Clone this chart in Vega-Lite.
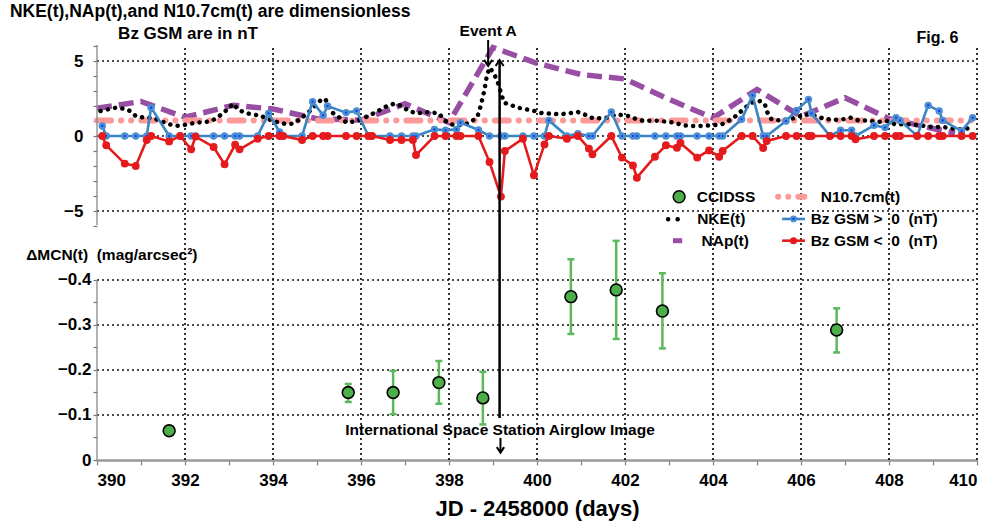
{
"$schema": "https://vega.github.io/schema/vega-lite/v6.json",
"width": 880, "height": 415,
"autosize": {"type": "none"},
"padding": {"left": 97, "top": 45, "right": 18, "bottom": 69},
"background": "white",
"config": {"view": {"stroke": null}},
"datasets": {
"gx": [{"g":392},{"g":394},{"g":396},{"g":398},{"g":400},{"g":402},{"g":404},{"g":406},{"g":408},{"g":410}],
"gyu": [{"g":-5},{"g":0},{"g":5}],
"gyl": [{"g":-0.1},{"g":-0.2},{"g":-0.3},{"g":-0.4}],
"bz": [
{"x":390.12,"bzp":0.67,"bzn":0},{"x":390.21,"bzp":0,"bzn":-0.62},{"x":390.63,"bzp":0,"bzn":-1.84},{"x":390.88,"bzp":0,"bzn":-2.0},
{"x":391.13,"bzp":0,"bzn":-0.27},{"x":391.23,"bzp":1.89,"bzn":0},{"x":391.64,"bzp":0,"bzn":-0.36},{"x":391.89,"bzp":0,"bzn":0},
{"x":392.14,"bzp":0,"bzn":-0.89},{"x":392.24,"bzp":0,"bzn":-0.04},{"x":392.65,"bzp":0,"bzn":-0.73},{"x":392.9,"bzp":0,"bzn":-1.89},
{"x":393.14,"bzp":0,"bzn":-0.58},{"x":393.24,"bzp":0,"bzn":-0.89},{"x":393.65,"bzp":0,"bzn":-0.18},{"x":393.9,"bzp":1.51,"bzn":0},
{"x":394.15,"bzp":0.27,"bzn":0},{"x":394.23,"bzp":0,"bzn":0},{"x":394.66,"bzp":0,"bzn":-0.27},{"x":394.9,"bzp":2.29,"bzn":0},
{"x":395.14,"bzp":1.38,"bzn":0},{"x":395.24,"bzp":2.0,"bzn":0},{"x":395.66,"bzp":1.56,"bzn":0},{"x":395.9,"bzp":1.67,"bzn":0},
{"x":396.17,"bzp":0,"bzn":0},{"x":396.25,"bzp":0,"bzn":0},{"x":396.66,"bzp":0,"bzn":-0.27},{"x":396.92,"bzp":0,"bzn":-0.27},
{"x":397.18,"bzp":0,"bzn":-0.27},{"x":397.25,"bzp":0,"bzn":-1.27},{"x":397.67,"bzp":0.44,"bzn":0},{"x":397.92,"bzp":0.38,"bzn":0},
{"x":398.17,"bzp":0.44,"bzn":0},{"x":398.26,"bzp":0.89,"bzn":0},{"x":398.67,"bzp":0.4,"bzn":0},{"x":398.92,"bzp":0,"bzn":-1.73},
{"x":399.18,"bzp":0,"bzn":-4.04},{"x":399.27,"bzp":0,"bzn":-1.0},{"x":399.68,"bzp":0,"bzn":-0.18},{"x":399.93,"bzp":0,"bzn":-2.62},
{"x":400.17,"bzp":0,"bzn":-0.56},{"x":400.27,"bzp":1.04,"bzn":0},{"x":400.68,"bzp":0,"bzn":-0.18},{"x":400.93,"bzp":0.16,"bzn":0},
{"x":401.18,"bzp":0,"bzn":-0.84},{"x":401.26,"bzp":0,"bzn":-1.22},{"x":401.69,"bzp":1.6,"bzn":0},{"x":401.93,"bzp":0,"bzn":-1.44},
{"x":402.18,"bzp":0,"bzn":-1.96},{"x":402.27,"bzp":0,"bzn":-2.78},{"x":402.68,"bzp":0,"bzn":-1.38},{"x":402.93,"bzp":0,"bzn":-0.62},
{"x":403.18,"bzp":0,"bzn":-0.78},{"x":403.26,"bzp":0,"bzn":-0.47},{"x":403.64,"bzp":0,"bzn":-1.44},{"x":403.91,"bzp":0,"bzn":-0.96},
{"x":404.14,"bzp":0,"bzn":-1.38},{"x":404.22,"bzp":0,"bzn":-1.0},{"x":404.65,"bzp":1.11,"bzn":0},{"x":404.9,"bzp":2.71,"bzn":0},
{"x":405.14,"bzp":0,"bzn":-0.8},{"x":405.22,"bzp":0,"bzn":-0.33},{"x":405.66,"bzp":1.0,"bzn":0},{"x":405.9,"bzp":1.71,"bzn":0},
{"x":406.17,"bzp":2.44,"bzn":0},{"x":406.24,"bzp":1.51,"bzn":0},{"x":406.66,"bzp":0,"bzn":0},{"x":406.9,"bzp":0.38,"bzn":0},
{"x":407.15,"bzp":0.38,"bzn":0},{"x":407.24,"bzp":0,"bzn":-0.22},{"x":407.66,"bzp":0.71,"bzn":0},{"x":407.91,"bzp":0.56,"bzn":0},
{"x":408.16,"bzp":1.22,"bzn":0},{"x":408.25,"bzp":1.04,"bzn":0},{"x":408.64,"bzp":0,"bzn":0},{"x":408.89,"bzp":2.04,"bzn":0},
{"x":409.14,"bzp":1.67,"bzn":0},{"x":409.22,"bzp":1.04,"bzn":0},{"x":409.65,"bzp":0.33,"bzn":0},{"x":409.9,"bzp":1.22,"bzn":0}
],
"nke": [
{"x":390.08,"v":1.67},{"x":390.43,"v":1.89},{"x":390.62,"v":1.82},{"x":390.75,"v":1.67},{"x":390.88,"v":1.33},{"x":391.07,"v":1.22},
{"x":391.26,"v":1.22},{"x":391.45,"v":1.0},{"x":391.64,"v":0.78},{"x":391.87,"v":0.67},{"x":392.06,"v":0.78},{"x":392.25,"v":0.89},
{"x":392.44,"v":0.93},{"x":392.6,"v":1.0},{"x":392.73,"v":1.22},{"x":392.86,"v":1.51},{"x":392.98,"v":1.82},{"x":393.1,"v":2.16},
{"x":393.2,"v":1.78},{"x":393.32,"v":1.6},{"x":393.51,"v":1.44},{"x":393.7,"v":1.38},{"x":393.85,"v":1.18},{"x":394.0,"v":1.0},
{"x":394.16,"v":0.89},{"x":394.31,"v":0.78},{"x":394.46,"v":0.84},{"x":394.61,"v":1.11},{"x":394.8,"v":1.56},{"x":394.99,"v":2.11},
{"x":395.12,"v":2.49},{"x":395.2,"v":2.4},{"x":395.33,"v":1.6},{"x":395.49,"v":1.27},{"x":395.68,"v":0.89},{"x":395.9,"v":1.0},
{"x":396.13,"v":1.29},{"x":396.32,"v":1.56},{"x":396.44,"v":1.75},{"x":396.59,"v":2.0},{"x":396.76,"v":2.16},{"x":396.93,"v":2.0},
{"x":397.08,"v":1.67},{"x":397.28,"v":1.51},{"x":397.46,"v":1.6},{"x":397.62,"v":1.56},{"x":397.77,"v":1.51},{"x":397.92,"v":1.0},
{"x":398.04,"v":0.78},{"x":398.19,"v":0.71},{"x":398.38,"v":0.78},{"x":398.53,"v":1.0},{"x":398.65,"v":1.33},{"x":398.72,"v":2.0},
{"x":398.8,"v":3.0},{"x":398.86,"v":4.0},{"x":398.92,"v":4.56},{"x":399.01,"v":4.22},{"x":399.1,"v":3.67},{"x":399.19,"v":2.78},
{"x":399.25,"v":2.22},{"x":399.37,"v":2.11},{"x":399.56,"v":1.89},{"x":399.75,"v":1.78},{"x":399.94,"v":1.67},{"x":400.13,"v":1.51},
{"x":400.32,"v":1.49},{"x":400.51,"v":1.44},{"x":400.7,"v":1.51},{"x":400.93,"v":1.6},{"x":401.08,"v":1.44},{"x":401.23,"v":1.22},
{"x":401.42,"v":1.18},{"x":401.61,"v":1.22},{"x":401.8,"v":1.44},{"x":401.99,"v":1.38},{"x":402.14,"v":1.29},{"x":402.26,"v":1.11},
{"x":402.45,"v":1.0},{"x":402.64,"v":1.04},{"x":402.83,"v":1.0},{"x":402.98,"v":0.93},{"x":403.13,"v":0.89},{"x":403.32,"v":0.71},
{"x":403.48,"v":0.67},{"x":403.7,"v":0.67},{"x":403.97,"v":0.71},{"x":404.2,"v":0.78},{"x":404.35,"v":1.0},{"x":404.5,"v":1.29},
{"x":404.69,"v":1.78},{"x":404.88,"v":2.22},{"x":405.07,"v":2.33},{"x":405.18,"v":2.11},{"x":405.23,"v":1.6},{"x":405.33,"v":1.11},
{"x":405.45,"v":1.04},{"x":405.75,"v":1.11},{"x":405.94,"v":1.29},{"x":406.13,"v":1.44},{"x":406.36,"v":1.33},{"x":406.51,"v":1.16},
{"x":406.73,"v":1.07},{"x":406.96,"v":1.11},{"x":407.13,"v":1.22},{"x":407.3,"v":1.04},{"x":407.49,"v":1.04},{"x":407.72,"v":0.93},
{"x":407.95,"v":1.0},{"x":408.14,"v":0.78},{"x":408.33,"v":0.78},{"x":408.55,"v":0.78},{"x":408.7,"v":0.71},{"x":408.93,"v":0.62},
{"x":409.23,"v":0.6},{"x":409.46,"v":0.49},{"x":409.69,"v":0.44},{"x":409.88,"v":0.56}
],
"nap": [
{"x":390.0,"v":1.85},{"x":391.0,"v":2.3},{"x":392.0,"v":1.25},{"x":393.1,"v":2.05},{"x":394.0,"v":1.8},{"x":395.0,"v":1.15},
{"x":396.0,"v":1.05},{"x":397.0,"v":2.15},{"x":398.0,"v":0.9},{"x":399.0,"v":5.9},{"x":400.0,"v":4.85},{"x":401.0,"v":4.1},
{"x":402.0,"v":3.8},{"x":403.0,"v":2.45},{"x":404.0,"v":1.2},{"x":405.0,"v":3.1},{"x":406.0,"v":1.3},{"x":407.0,"v":2.55},
{"x":408.0,"v":1.15},{"x":409.0,"v":0.5},{"x":409.5,"v":0.2}
],
"n107": [
{"x":390,"v":1.03},{"x":391,"v":1.03},{"x":392,"v":1.03},{"x":393,"v":1.03},{"x":394,"v":1.03},{"x":395,"v":1.03},{"x":396,"v":1.03},
{"x":397,"v":1.03},{"x":398,"v":1.03},{"x":399,"v":1.03},{"x":400,"v":1.03},{"x":401,"v":1.03},{"x":402,"v":1.03},{"x":403,"v":1.03},
{"x":404,"v":1.03},{"x":405,"v":1.03},{"x":406,"v":1.03},{"x":407,"v":1.03},{"x":408,"v":1.03},{"x":409,"v":1.03},{"x":410,"v":1.03}
],
"cc": [
{"x":391.64,"y":-0.065,"lo":null,"hi":null},
{"x":395.71,"y":-0.150,"lo":-0.129,"hi":-0.169},
{"x":396.73,"y":-0.150,"lo":-0.102,"hi":-0.198},
{"x":397.77,"y":-0.172,"lo":-0.125,"hi":-0.220},
{"x":398.77,"y":-0.138,"lo":-0.079,"hi":-0.196},
{"x":400.77,"y":-0.363,"lo":-0.280,"hi":-0.446},
{"x":401.80,"y":-0.378,"lo":-0.269,"hi":-0.487},
{"x":402.85,"y":-0.331,"lo":-0.248,"hi":-0.415},
{"x":406.81,"y":-0.289,"lo":-0.239,"hi":-0.337}
]
},
"data": {"values": [{}]},
"layer": [
{
"resolve": {"axis": {"x": "independent", "y": "independent"}},
"layer": [
{"data": {"name": "gx"},
 "mark": {"type": "rule", "color": "#111", "strokeWidth": 1.7, "strokeDash": [2, 3], "opacity": 1},
 "encoding": {"x": {"field": "g", "type": "quantitative", "scale": {"domain": [390, 410], "nice": false, "zero": false}, "axis": null},
  "y": {"datum": -21.6, "scale": {"domain": [-21.6, 6.0667], "nice": false, "zero": false}, "axis": null}, "y2": {"datum": 6.0667}}},
{"data": {"name": "gyu"},
 "mark": {"type": "rule", "color": "#111", "strokeWidth": 1.7, "strokeDash": [2, 3], "opacity": 1},
 "encoding": {"x": {"datum": 390, "axis": null}, "x2": {"datum": 410}, "y": {"field": "g", "type": "quantitative", "axis": null}}},
{"data": {"name": "nap"},
 "mark": {"type": "line", "color": "#984ea3", "strokeWidth": 5.5, "strokeDash": [15, 7]},
 "encoding": {"x": {"field": "x", "type": "quantitative", "axis": null}, "y": {"field": "v", "type": "quantitative", "axis": null}}},
{"data": {"name": "n107"},
 "mark": {"type": "line", "color": "#fb9a99", "strokeWidth": 6, "strokeCap": "round", "strokeDash": [14, 10, 0.1, 10, 0.1, 10]},
 "encoding": {
  "x": {"field": "x", "type": "quantitative",
   "axis": {"title": "JD - 2458000 (days)", "orient": "bottom", "values": [390,391,392,393,394,395,396,397,398,399,400,401,402,403,404,405,406,407,408,409,410],
    "labelExpr": "datum.value % 2 === 0 ? datum.label : ''", "labelOverlap": false, "grid": false,
    "domain": true, "domainColor": "#999", "domainWidth": 2.5, "ticks": true, "tickColor": "#888", "tickSize": 5, "tickWidth": 1.3,
    "labelFont": "Liberation Sans, sans-serif", "labelFontSize": 17, "labelFontWeight": "bold", "labelColor": "#000", "labelPadding": 7,
    "titleFont": "Liberation Sans, sans-serif", "titleFontSize": 22, "titleFontWeight": "bold", "titleColor": "#000", "titlePadding": 10}},
  "y": {"field": "v", "type": "quantitative",
   "axis": {"title": null, "orient": "left", "values": [-6,-5,-4,-3,-2,-1,0,1,2,3,4,5,6],
    "labelExpr": "datum.value % 5 === 0 ? datum.label : ''", "labelOverlap": false, "grid": false,
    "domain": false, "ticks": true, "tickColor": "#777", "tickSize": 4, "tickWidth": 1.2,
    "labelFont": "Liberation Sans, sans-serif", "labelFontSize": 17, "labelFontWeight": "bold", "labelColor": "#000", "labelPadding": 10}}
 }},
{"data": {"name": "nke"},
 "mark": {"type": "line", "color": "#000", "strokeWidth": 4.5, "strokeCap": "round", "strokeDash": [0.1, 7.3]},
 "encoding": {"x": {"field": "x", "type": "quantitative", "axis": null}, "y": {"field": "v", "type": "quantitative", "axis": null}}},
{"data": {"name": "bz"},
 "mark": {"type": "line", "color": "#3a84c4", "strokeWidth": 2.6},
 "encoding": {"x": {"field": "x", "type": "quantitative", "axis": null}, "y": {"field": "bzp", "type": "quantitative", "axis": null}}},
{"data": {"name": "bz"},
 "mark": {"type": "point", "filled": true, "color": "#4a90d0", "size": 55, "opacity": 1},
 "encoding": {"x": {"field": "x", "type": "quantitative", "axis": null}, "y": {"field": "bzp", "type": "quantitative", "axis": null}}},
{"data": {"name": "bz"},
 "mark": {"type": "point", "filled": true, "color": "#1530ff", "size": 5, "opacity": 1},
 "encoding": {"x": {"field": "x", "type": "quantitative", "axis": null}, "y": {"field": "bzp", "type": "quantitative", "axis": null}}},
{"data": {"name": "bz"},
 "mark": {"type": "line", "color": "#e41a1c", "strokeWidth": 2.6},
 "encoding": {"x": {"field": "x", "type": "quantitative", "axis": null}, "y": {"field": "bzn", "type": "quantitative", "axis": null}}},
{"data": {"name": "bz"},
 "mark": {"type": "point", "filled": true, "color": "#e41a1c", "size": 62, "opacity": 1},
 "encoding": {"x": {"field": "x", "type": "quantitative", "axis": null}, "y": {"field": "bzn", "type": "quantitative", "axis": null}}},
{"mark": {"type": "rule", "color": "#888", "strokeWidth": 1.3},
 "encoding": {"x": {"datum": 390, "axis": null}, "y": {"datum": -5.93, "axis": null}, "y2": {"datum": 6.0667}}},
{"mark": {"type": "rule", "color": "#000", "strokeWidth": 2.5},
 "encoding": {"x": {"datum": 399.15, "axis": null}, "y": {"datum": 5.07, "axis": null}, "y2": {"datum": -18.8}}},
{"mark": {"type": "point", "shape": "M-0.6,0.9L0,0L0.6,0.9", "filled": false, "color": "#000", "strokeWidth": 2, "size": 180, "opacity": 1},
 "encoding": {"x": {"datum": 399.15, "axis": null}, "y": {"datum": 5.07, "axis": null}}},
{"mark": {"type": "rule", "color": "#000", "strokeWidth": 2},
 "encoding": {"x": {"datum": 398.89, "axis": null}, "y": {"datum": 6.4, "axis": null}, "y2": {"datum": 4.67}}},
{"mark": {"type": "point", "shape": "M-0.6,-0.9L0,0L0.6,-0.9", "filled": false, "color": "#000", "strokeWidth": 2, "size": 180, "opacity": 1},
 "encoding": {"x": {"datum": 398.89, "axis": null}, "y": {"datum": 4.67, "axis": null}}},
{"mark": {"type": "rule", "color": "#000", "strokeWidth": 2},
 "encoding": {"x": {"datum": 399.17, "axis": null}, "y": {"datum": -20.13, "axis": null}, "y2": {"datum": -21.11}}},
{"mark": {"type": "point", "shape": "M-0.6,-0.9L0,0L0.6,-0.9", "filled": false, "color": "#000", "strokeWidth": 2, "size": 150, "opacity": 1},
 "encoding": {"x": {"datum": 399.17, "axis": null}, "y": {"datum": -21.11, "axis": null}}},
{"mark": {"type": "text", "align": "left", "baseline": "middle", "font": "Liberation Sans, sans-serif", "fontSize": 17.5, "fontWeight": "bold", "color": "#000", "text": "NKE(t),NAp(t),and N10.7cm(t) are dimensionless"},
 "encoding": {"x": {"datum": 388.02, "axis": null}, "y": {"datum": 8.27, "axis": null}}},
{"mark": {"type": "text", "align": "left", "baseline": "middle", "font": "Liberation Sans, sans-serif", "fontSize": 17, "fontWeight": "bold", "color": "#000", "text": "Bz GSM are in nT"},
 "encoding": {"x": {"datum": 390.48, "axis": null}, "y": {"datum": 6.8, "axis": null}}},
{"mark": {"type": "text", "align": "center", "baseline": "middle", "font": "Liberation Sans, sans-serif", "fontSize": 15.5, "fontWeight": "bold", "color": "#000", "text": "Event A"},
 "encoding": {"x": {"datum": 398.89, "axis": null}, "y": {"datum": 7.0, "axis": null}}},
{"mark": {"type": "text", "align": "center", "baseline": "middle", "font": "Liberation Sans, sans-serif", "fontSize": 16, "fontWeight": "bold", "color": "#000", "text": "Fig. 6"},
 "encoding": {"x": {"datum": 409.1, "axis": null}, "y": {"datum": 6.53, "axis": null}}},
{"mark": {"type": "text", "align": "left", "baseline": "middle", "font": "Liberation Sans, sans-serif", "fontSize": 15.5, "fontWeight": "bold", "color": "#000", "text": "ΔMCN(t)\u00a0\u00a0(mag/arcsec²)"},
 "encoding": {"x": {"datum": 388.39, "axis": null}, "y": {"datum": -7.93, "axis": null}}},
{"mark": {"type": "text", "align": "center", "baseline": "middle", "font": "Liberation Sans, sans-serif", "fontSize": 15.5, "fontWeight": "bold", "color": "#000", "text": "International Space Station Airglow Image"},
 "encoding": {"x": {"datum": 399.16, "axis": null}, "y": {"datum": -19.6, "axis": null}}},
{"mark": {"type": "point", "filled": true, "color": "#4daf4a", "stroke": "#000", "strokeWidth": 1.5, "size": 140, "opacity": 1},
 "encoding": {"x": {"datum": 403.23, "axis": null}, "y": {"datum": -4.05, "axis": null}}},
{"mark": {"type": "rule", "color": "#000", "strokeWidth": 4.5, "strokeCap": "round", "strokeDash": [0.1, 9.4]},
 "encoding": {"x": {"datum": 402.98, "axis": null}, "x2": {"datum": 403.41}, "y": {"datum": -5.55, "axis": null}}},
{"mark": {"type": "rule", "color": "#984ea3", "strokeWidth": 5},
 "encoding": {"x": {"datum": 403.09, "axis": null}, "x2": {"datum": 403.3}, "y": {"datum": -6.98, "axis": null}}},
{"mark": {"type": "rule", "color": "#fb9a99", "strokeWidth": 6, "strokeCap": "round", "strokeDash": [0.1, 10, 0.1, 10, 6, 50]},
 "encoding": {"x": {"datum": 405.48, "axis": null}, "x2": {"datum": 406.09}, "y": {"datum": -4.05, "axis": null}}},
{"mark": {"type": "rule", "color": "#3a84c4", "strokeWidth": 2.6},
 "encoding": {"x": {"datum": 405.57, "axis": null}, "x2": {"datum": 406.09}, "y": {"datum": -5.53, "axis": null}}},
{"mark": {"type": "point", "filled": true, "color": "#4a90d0", "size": 45, "opacity": 1},
 "encoding": {"x": {"datum": 405.83, "axis": null}, "y": {"datum": -5.53, "axis": null}}},
{"mark": {"type": "point", "filled": true, "color": "#1530ff", "size": 5, "opacity": 1},
 "encoding": {"x": {"datum": 405.83, "axis": null}, "y": {"datum": -5.53, "axis": null}}},
{"mark": {"type": "rule", "color": "#e41a1c", "strokeWidth": 2.6},
 "encoding": {"x": {"datum": 405.57, "axis": null}, "x2": {"datum": 406.09}, "y": {"datum": -6.98, "axis": null}}},
{"mark": {"type": "point", "filled": true, "color": "#e41a1c", "size": 50, "opacity": 1},
 "encoding": {"x": {"datum": 405.83, "axis": null}, "y": {"datum": -6.98, "axis": null}}},
{"mark": {"type": "text", "align": "left", "baseline": "middle", "font": "Liberation Sans, sans-serif", "fontSize": 15.5, "fontWeight": "bold", "color": "#000", "text": "CCIDSS"},
 "encoding": {"x": {"datum": 403.63, "axis": null}, "y": {"datum": -4.05, "axis": null}}},
{"mark": {"type": "text", "align": "left", "baseline": "middle", "font": "Liberation Sans, sans-serif", "fontSize": 15.5, "fontWeight": "bold", "color": "#000", "text": "NKE(t)"},
 "encoding": {"x": {"datum": 403.64, "axis": null}, "y": {"datum": -5.55, "axis": null}}},
{"mark": {"type": "text", "align": "left", "baseline": "middle", "font": "Liberation Sans, sans-serif", "fontSize": 15.5, "fontWeight": "bold", "color": "#000", "text": "NAp(t)"},
 "encoding": {"x": {"datum": 403.74, "axis": null}, "y": {"datum": -6.98, "axis": null}}},
{"mark": {"type": "text", "align": "left", "baseline": "middle", "font": "Liberation Sans, sans-serif", "fontSize": 15.5, "fontWeight": "bold", "color": "#000", "text": "N10.7cm(t)"},
 "encoding": {"x": {"datum": 406.45, "axis": null}, "y": {"datum": -4.05, "axis": null}}},
{"mark": {"type": "text", "align": "left", "baseline": "middle", "font": "Liberation Sans, sans-serif", "fontSize": 15.5, "fontWeight": "bold", "color": "#000", "text": "Bz GSM >\u00a0\u00a00\u00a0\u00a0(nT)"},
 "encoding": {"x": {"datum": 406.22, "axis": null}, "y": {"datum": -5.53, "axis": null}}},
{"mark": {"type": "text", "align": "left", "baseline": "middle", "font": "Liberation Sans, sans-serif", "fontSize": 15.5, "fontWeight": "bold", "color": "#000", "text": "Bz GSM <\u00a0\u00a00\u00a0\u00a0(nT)"},
 "encoding": {"x": {"datum": 406.22, "axis": null}, "y": {"datum": -6.98, "axis": null}}}
]
},
{
"resolve": {"axis": {"x": "independent", "y": "independent"}},
"layer": [
{"data": {"name": "gyl"},
 "mark": {"type": "rule", "color": "#111", "strokeWidth": 1.7, "strokeDash": [2, 3], "opacity": 1},
 "encoding": {"x": {"datum": 390, "axis": null}, "x2": {"datum": 410},
  "y": {"field": "g", "type": "quantitative", "scale": {"domain": [-0.9222, 0], "reverse": true, "nice": false, "zero": false}, "axis": null}}},
{"data": {"name": "cc"},
 "transform": [{"filter": "isValid(datum.lo)"}],
 "mark": {"type": "rule", "color": "#5cb85c", "strokeWidth": 2.5},
 "encoding": {"x": {"field": "x", "type": "quantitative", "axis": null}, "y": {"field": "lo", "type": "quantitative", "axis": null}, "y2": {"field": "hi"}}},
{"data": {"name": "cc"},
 "transform": [{"filter": "isValid(datum.lo)"}],
 "mark": {"type": "tick", "orient": "horizontal", "color": "#5cb85c", "size": 7, "thickness": 2.5, "opacity": 1},
 "encoding": {"x": {"field": "x", "type": "quantitative", "axis": null}, "y": {"field": "lo", "type": "quantitative", "axis": null}}},
{"data": {"name": "cc"},
 "transform": [{"filter": "isValid(datum.hi)"}],
 "mark": {"type": "tick", "orient": "horizontal", "color": "#5cb85c", "size": 7, "thickness": 2.5, "opacity": 1},
 "encoding": {"x": {"field": "x", "type": "quantitative", "axis": null}, "y": {"field": "hi", "type": "quantitative", "axis": null}}},
{"data": {"name": "cc"},
 "mark": {"type": "point", "filled": true, "color": "#4daf4a", "stroke": "#000", "strokeWidth": 1.6, "size": 140, "opacity": 1},
 "encoding": {"x": {"field": "x", "type": "quantitative", "axis": null},
  "y": {"field": "y", "type": "quantitative",
   "axis": {"title": null, "orient": "left", "values": [0,-0.05,-0.1,-0.15,-0.2,-0.25,-0.3,-0.35,-0.4],
    "labelExpr": "datum.value === 0 ? '0' : (abs(round(datum.value*20)) % 2 === 0 ? format(datum.value, '.1f') : '')",
    "labelOverlap": false, "grid": false,
    "domain": false, "ticks": true, "tickColor": "#777", "tickSize": 4, "tickWidth": 1.2,
    "labelFont": "Liberation Sans, sans-serif", "labelFontSize": 17, "labelFontWeight": "bold", "labelColor": "#000", "labelPadding": 2}}}},
{"mark": {"type": "rule", "color": "#888", "strokeWidth": 1.3},
 "encoding": {"x": {"datum": 390, "axis": null}, "y": {"datum": 0, "axis": null}, "y2": {"datum": -0.4}}}
]
}
],
"resolve": {"scale": {"y": "independent"}, "axis": {"x": "independent", "y": "independent"}}
}
